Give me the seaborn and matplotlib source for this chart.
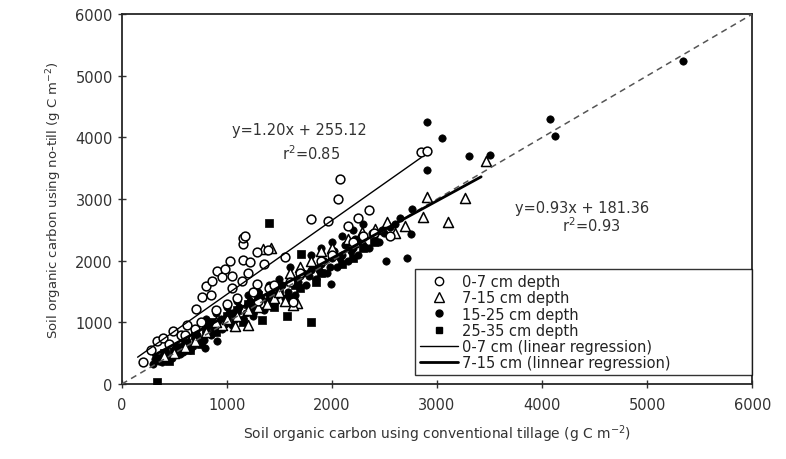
import numpy as np
import pandas as pd
import matplotlib
matplotlib.use("Agg")
import matplotlib.pyplot as plt
import seaborn as sns
from matplotlib.lines import Line2D

# ---------------- data (g C m-2) ----------------
d07_x = [200, 280, 330, 390, 450, 490, 560, 620, 710, 760, 800, 860, 910, 950, 980,
         1030, 1150, 1220, 1150, 1150, 1170, 1290, 1390, 1140, 1290, 1550, 1800, 1960,
         2080, 2060, 2150, 2250, 2350, 2850, 2900, 1100, 1250, 1400, 1600, 1700, 1900,
         2000, 2200, 2400, 2550, 900, 1000, 700, 600, 1050, 850, 1200, 1350, 2300, 1630,
         750, 1050, 1300, 1450]
d07_y = [360, 550, 700, 750, 650, 860, 800, 950, 1220, 1410, 1590, 1670, 1830, 1740, 1870,
         1990, 2010, 1980, 2270, 2370, 2400, 2140, 2170, 1670, 1620, 2060, 2670, 2640,
         3320, 3000, 2570, 2700, 2830, 3760, 3780, 1400, 1500, 1550, 1650, 1800, 2000,
         2100, 2300, 2450, 2400, 1200, 1300, 900, 800, 1750, 1450, 1800, 1950, 2400, 1330,
         1000, 1550, 1350, 1600]

d715_x = [3470, 2900, 3270, 3100, 2870, 2700, 2520, 2410, 2290, 2150, 2000, 1900, 1800,
          1700, 1600, 1340, 1420, 1670, 1630, 1550, 1450, 1380, 1300, 1200, 1080, 950,
          1100, 1000, 900, 800, 700, 600, 500, 400, 2600, 2200, 1500, 1200]
d715_y = [3620, 3030, 3020, 2630, 2710, 2560, 2630, 2510, 2470, 2350, 2200, 2150, 2000,
          1900, 1800, 2190, 2200, 1310, 1280, 1350, 1400, 1300, 1250, 950, 940, 950,
          1100, 1050, 1000, 850, 700, 600, 500, 450, 2450, 2300, 1500, 1200]

d1525_x = [5340, 4080, 4120, 3300, 3500, 2900, 3050, 2900, 2760, 2750, 2510, 2710, 1990,
           2600, 2500, 2400, 2300, 2200, 2100, 2000, 1900, 1800, 1700, 1600, 1500, 1400,
           1300, 1200, 1100, 1000, 900, 800, 700, 600, 500, 400, 350, 300, 450, 550, 650,
           750, 850, 950, 1050, 1150, 1250, 1350, 1450, 1550, 1650, 1750, 1850, 1950,
           2050, 2150, 2250, 2350, 2450, 1500, 1600, 1400, 1300, 1200, 1100, 1000, 900,
           800, 1900, 2000, 2100, 1800, 2200, 2300, 905, 790, 1050, 1250,
           320, 380, 420, 480, 520, 580, 620, 680, 720, 780, 820, 880, 940, 980, 1020,
           1080, 1120, 1180, 1220, 1280, 1320, 1380, 1420, 1480, 1520, 1580, 1620, 1680,
           1720, 1780, 1820, 1880, 1920, 1980, 2020, 2080, 2120, 2180, 2220, 2280, 2380,
           2480, 2550, 2650]
d1525_y = [5240, 4300, 4020, 3700, 3710, 4250, 3990, 3470, 2840, 2440, 1990, 2040, 1620,
           2600, 2450, 2400, 2250, 2200, 2100, 2050, 1950, 1850, 1750, 1650, 1550, 1450,
           1350, 1300, 1200, 1100, 1000, 850, 750, 650, 550, 450, 380, 330, 400, 480, 560,
           700, 800, 900, 950, 1050, 1100, 1200, 1300, 1400, 1450, 1600, 1700, 1800,
           1900, 2000, 2100, 2200, 2300, 1700, 1900, 1600, 1500, 1450, 1350, 1250, 1150,
           1050, 2200, 2300, 2400, 2100, 2500, 2600, 700, 580, 1150, 1250,
           400, 350, 520, 430, 600, 520, 700, 620, 800, 720, 950, 900, 1050, 980, 1150,
           1050, 1250, 1150, 1350, 1250, 1400, 1350, 1500, 1450, 1600, 1500, 1700, 1650,
           1800, 1750, 1900, 1850, 2000, 1900, 2150, 2050, 2250, 2150, 2350, 2300, 2450,
           2500, 2550, 2700]

d2535_x = [330, 1400, 1710, 1800, 1570, 1330, 1200, 1000, 800, 600, 500, 400, 1100, 1300,
           1500, 1700, 1900, 2100, 2300, 2000, 900, 700, 1600,
           350, 450, 550, 650, 750, 850, 950, 1150, 1250, 1450, 1650, 1850, 2200, 2400]
d2535_y = [30, 2610, 2110, 1000, 1100, 1040, 1300, 1100, 900, 700, 550, 500, 1200, 1450,
           1500, 1550, 1800, 1950, 2200, 2100, 850, 800, 1400,
           420, 380, 600, 550, 650, 1000, 950, 1000, 1200, 1250, 1600, 1650, 2050, 2300]

reg07_slope, reg07_icpt, reg07_x = 1.20, 255.12, [150, 2850]
reg715_slope, reg715_icpt, reg715_x = 0.93, 181.36, [300, 3420]
one_to_one = [0, 6000]

ticks = [0, 1000, 2000, 3000, 4000, 5000, 6000]

# ---------------- build table ----------------
frames = []
for name, xs, ys in [("0-7 cm depth", d07_x, d07_y),
                     ("7-15 cm depth", d715_x, d715_y),
                     ("15-25 cm depth", d1525_x, d1525_y),
                     ("25-35 cm depth", d2535_x, d2535_y)]:
    frames.append(pd.DataFrame({"ct": xs, "nt": ys, "depth": name}))
df = pd.concat(frames, ignore_index=True)

sns.set_style("ticks")
plt.rcParams["font.family"] = ["DejaVu Sans"]

fig = plt.figure(figsize=(7.86, 4.6), dpi=100)
ax = fig.add_axes([0.155, 0.163, 0.802, 0.804])

# 1:1 dashed line
sns.lineplot(x=one_to_one, y=one_to_one, ax=ax, color="#555555", lw=1.1,
             linestyle=(0, (4, 3)), legend=False)

styles = {
    "0-7 cm depth": dict(marker="o", s=40, facecolor="white", edgecolor="black", linewidth=1.1),
    "7-15 cm depth": dict(marker="^", s=52, facecolor="white", edgecolor="black", linewidth=1.1),
    "15-25 cm depth": dict(marker="o", s=28, facecolor="black", edgecolor="black", linewidth=0.5),
    "25-35 cm depth": dict(marker="s", s=28, facecolor="black", edgecolor="black", linewidth=0.5),
}
for name in ["15-25 cm depth", "25-35 cm depth", "7-15 cm depth", "0-7 cm depth"]:
    sub = df[df["depth"] == name]
    sns.scatterplot(data=sub, x="ct", y="nt", ax=ax, legend=False, zorder=3, **styles[name])

# regression lines
x1 = np.array(reg07_x, dtype=float)
sns.lineplot(x=x1, y=reg07_slope * x1 + reg07_icpt, ax=ax, color="black", lw=1.0, legend=False)
x2 = np.array(reg715_x, dtype=float)
sns.lineplot(x=x2, y=reg715_slope * x2 + reg715_icpt, ax=ax, color="black", lw=2.0, legend=False)
for l in ax.lines:
    l.set_zorder(4)

ax.set_xlim(0, 6000)
ax.set_ylim(0, 6000)
ax.set_xticks(ticks)
ax.set_yticks(ticks)
ax.tick_params(direction="inout", length=6, width=1, labelsize=10.5, colors="#333333")
ax.tick_params(axis="x", pad=6)
for sp in ax.spines.values():
    sp.set_linewidth(1.3)

ax.set_xlabel("Soil organic carbon using conventional tillage (g C m$^{-2}$)",
              fontsize=10, color="#333333", labelpad=8)
ax.set_ylabel("Soil organic carbon using no-till (g C m$^{-2}$)",
              fontsize=9.5, color="#333333", labelpad=8)

ax.text(1690, 4130, "y=1.20x + 255.12", fontsize=10.5, color="#333333", ha="center", va="center")
ax.text(1800, 3760, "r$^2$=0.85", fontsize=10.5, color="#333333", ha="center", va="center")
ax.text(4380, 2870, "y=0.93x + 181.36", fontsize=10.5, color="#333333", ha="center", va="center")
ax.text(4470, 2580, "r$^2$=0.93", fontsize=10.5, color="#333333", ha="center", va="center")

handles = [
    Line2D([], [], marker="o", ls="none", mfc="white", mec="black", ms=6),
    Line2D([], [], marker="^", ls="none", mfc="white", mec="black", ms=6.5),
    Line2D([], [], marker="o", ls="none", mfc="black", mec="black", ms=5),
    Line2D([], [], marker="s", ls="none", mfc="black", mec="black", ms=5),
    Line2D([], [], color="black", lw=1.0),
    Line2D([], [], color="black", lw=2.0),
]
labels = ["0-7 cm depth", "7-15 cm depth", "15-25 cm depth", "25-35 cm depth",
          "0-7 cm (linear regression)", "7-15 cm (linnear regression)"]
leg = ax.legend(handles, labels, loc="lower left", bbox_to_anchor=(0.465, 0.024, 0.535, 0.3),
                mode="expand",
                fontsize=10.5, frameon=True, fancybox=False, edgecolor="black",
                handlelength=2.6, labelspacing=0.08, borderpad=0.35, handletextpad=0.3,
                borderaxespad=0.0)
leg.get_frame().set_linewidth(1.0)
for t in leg.get_texts():
    t.set_color("#222222")

fig.savefig("out.png", dpi=100)
